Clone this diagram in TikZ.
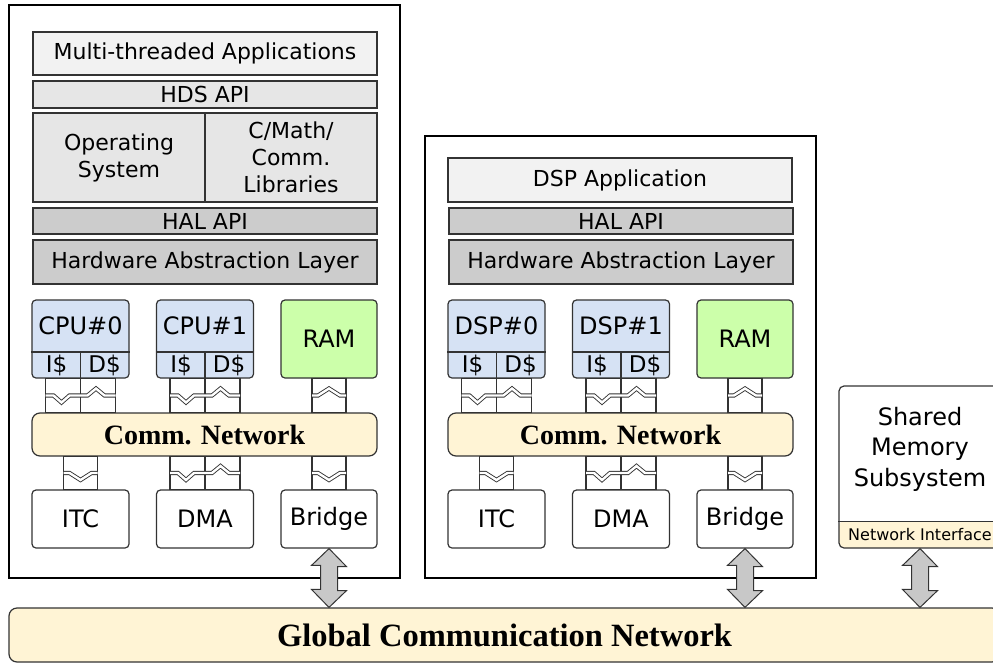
\documentclass[tikz,border=0pt]{standalone}
\usepackage{fontspec}
\setmainfont{Liberation Serif}
\setsansfont{DejaVu Sans}
\usepackage{tikz}
\usetikzlibrary{calc}

\definecolor{appgray}{HTML}{F2F2F2}
\definecolor{apigray}{HTML}{E6E6E6}
\definecolor{halgray}{HTML}{CCCCCC}
\definecolor{cpublue}{RGB}{214,226,244}
\definecolor{ramgreen}{RGB}{204,255,170}
\definecolor{netyellow}{RGB}{255,244,213}
\definecolor{arrowgray}{RGB}{200,200,200}

\begin{document}
\begin{tikzpicture}[x=1pt,y=-1pt,
    caption node/.style={inner sep=0pt,align=center,font=\sffamily\fontsize{22}{27}\selectfont},
    hw caption/.style={caption node,font=\sffamily\fontsize{24}{30.5}\selectfont},
    box node/.style={caption node,draw=black!80,line width=1.2pt},
    layer node/.style={box node,minimum width=344pt},
    hw node/.style={box node,hw caption,fill=white,rounded corners=4pt,minimum width=97pt},
    net node/.style={box node,rounded corners=8pt,fill=netyellow,font=\bfseries\fontsize{28}{32}\selectfont},
    frame node/.style={draw=black,line width=1.8pt,fill=white,inner sep=0pt},
    link/.style={draw=black!80,line width=1.2pt},
    wave/.style={draw=black!80,line width=0.9pt,double=white,double distance=2.4pt},
    big arrow/.style={draw=black!80,line width=1pt,fill=arrowgray}]

  \useasboundingbox (0,0) rectangle (993,664);

  %Frames%
  \node[frame node,minimum width=391pt,minimum height=573pt] (frameA) at (204.5,291.5) {};
  \node[frame node,minimum width=391pt,minimum height=442pt] (frameB) at (620.5,357) {};

  %Software layers%
  \node[layer node,fill=appgray,minimum height=43pt] (appA) at (205,53.5) {Multi-threaded Applications};
  \node[layer node,fill=apigray,minimum height=27pt] (hdsA) at (205,94.5) {HDS API};
  \node[box node,fill=apigray,minimum width=172pt,minimum height=89pt] (osA) at (119,157.5) {Operating\\System};
  \node[box node,fill=apigray,minimum width=172pt,minimum height=89pt] (libA) at (291,157.5) {C/Math/\\Comm.\\Libraries};
  \node[layer node,fill=appgray,minimum height=44pt] (appB) at (620,180) {DSP Application};

  %Hardware blocks%
  \foreach \s/\dx/\p in {A/0/CPU,B/416/DSP}{
    \node[layer node,fill=halgray,minimum height=26pt] (halapi\s) at (\dx+205,221) {HAL API};
    \node[layer node,fill=halgray,minimum height=44pt] (hal\s) at (\dx+205,262) {Hardware Abstraction Layer};

    \foreach \k in {0,1}{
      \node[hw node,fill=cpublue,minimum height=78pt] (core\s\k) at (\dx+80.5+124.5*\k,339) {};
      \draw[link] (core\s\k.west |- 0,352) -- (core\s\k.east |- 0,352);
      \draw[link] (core\s\k.south) -- ++(0,-26);
      \node[hw caption] at ($(core\s\k.north)+(0,26)$) {\p\#\k};
      \node[caption node,font=\sffamily\fontsize{23}{27}\selectfont] at ($(core\s\k.south)+(-24,-13)$) {I\$};
      \node[caption node,font=\sffamily\fontsize{23}{27}\selectfont] at ($(core\s\k.south)+(24,-13)$) {D\$};
    }
    \node[hw node,fill=ramgreen,minimum height=78pt,minimum width=96pt] (ram\s) at (\dx+329,339) {RAM};

    \node[net node,minimum width=345pt,minimum height=43pt] (net\s) at (\dx+204.5,434.5) {Comm. Network};

    \node[hw node,minimum height=58pt] (itc\s) at (\dx+80.5,519) {ITC};
    \node[hw node,minimum height=58pt] (dma\s) at (\dx+205,519) {DMA};
    \node[hw node,minimum height=58pt,minimum width=96pt] (br\s) at (\dx+329,519) {Bridge};

    %Links%
    \foreach \a/\b in {core\s0.south/net\s.north, core\s1.south/net\s.north, dma\s.north/net\s.south}{
      \draw[link] ($(\a)+(-35,0)$) rectangle ($(\a |- \b)+(35,0)$);
      \draw[link] (\a) -- (\a |- \b);
      \draw[wave] ($(\a)!0.5!(\a |- \b)+(-35,0)$) -- ++(8,0) -- ++(8,7) -- ++(8,-7) -- ++(18,0)
        -- ++(8.5,-7) -- ++(8.5,7) -- ++(11,0);
    }
    \foreach \a/\b/\d in {ram\s.south/net\s.north/-7, itc\s.north/net\s.south/7, br\s.north/net\s.south/7}{
      \draw[link] ($(\a)+(-17,0)$) rectangle ($(\a |- \b)+(17,0)$);
      \draw[wave] ($(\a)!0.5!(\a |- \b)+(-17,0)$) -- ++(6,0) -- ++(11,\d) -- ++(11,0-\d) -- ++(6,0);
    }
  }

  %Shared memory%
  \node[box node,rounded corners=5pt,minimum width=162pt,minimum height=162pt,
        path picture={\fill[netyellow] ([yshift=27pt]path picture bounding box.south west)
        rectangle (path picture bounding box.south east);}] (smem) at (920,467) {};
  \draw[link] ($(smem.south west)+(0,-27)$) -- ($(smem.south east)+(0,-27)$);
  \node[hw caption] (smemtxt) at (920,449) {Shared\\Memory\\Subsystem};
  \node[caption node,font=\sffamily\fontsize{16}{19}\selectfont] (nis) at (920,534.5) {Network Interface};

  %Global network%
  \node[net node,minimum width=991pt,minimum height=54pt,font=\bfseries\fontsize{32.5}{36}\selectfont] (gcn) at (504.5,635) {Global Communication Network};

  \foreach \n in {brA,brB,smem}
    \draw[big arrow] (\n.south) -- ++(17.5,18) -- ++(-9,0) -- ++(0,24) -- ++(9,0) -- (\n.south |- gcn.north)
      -- ++(-17.5,-18) -- ++(9,0) -- ++(0,-24) -- ++(-9,0) -- cycle;
\end{tikzpicture}
\end{document}
